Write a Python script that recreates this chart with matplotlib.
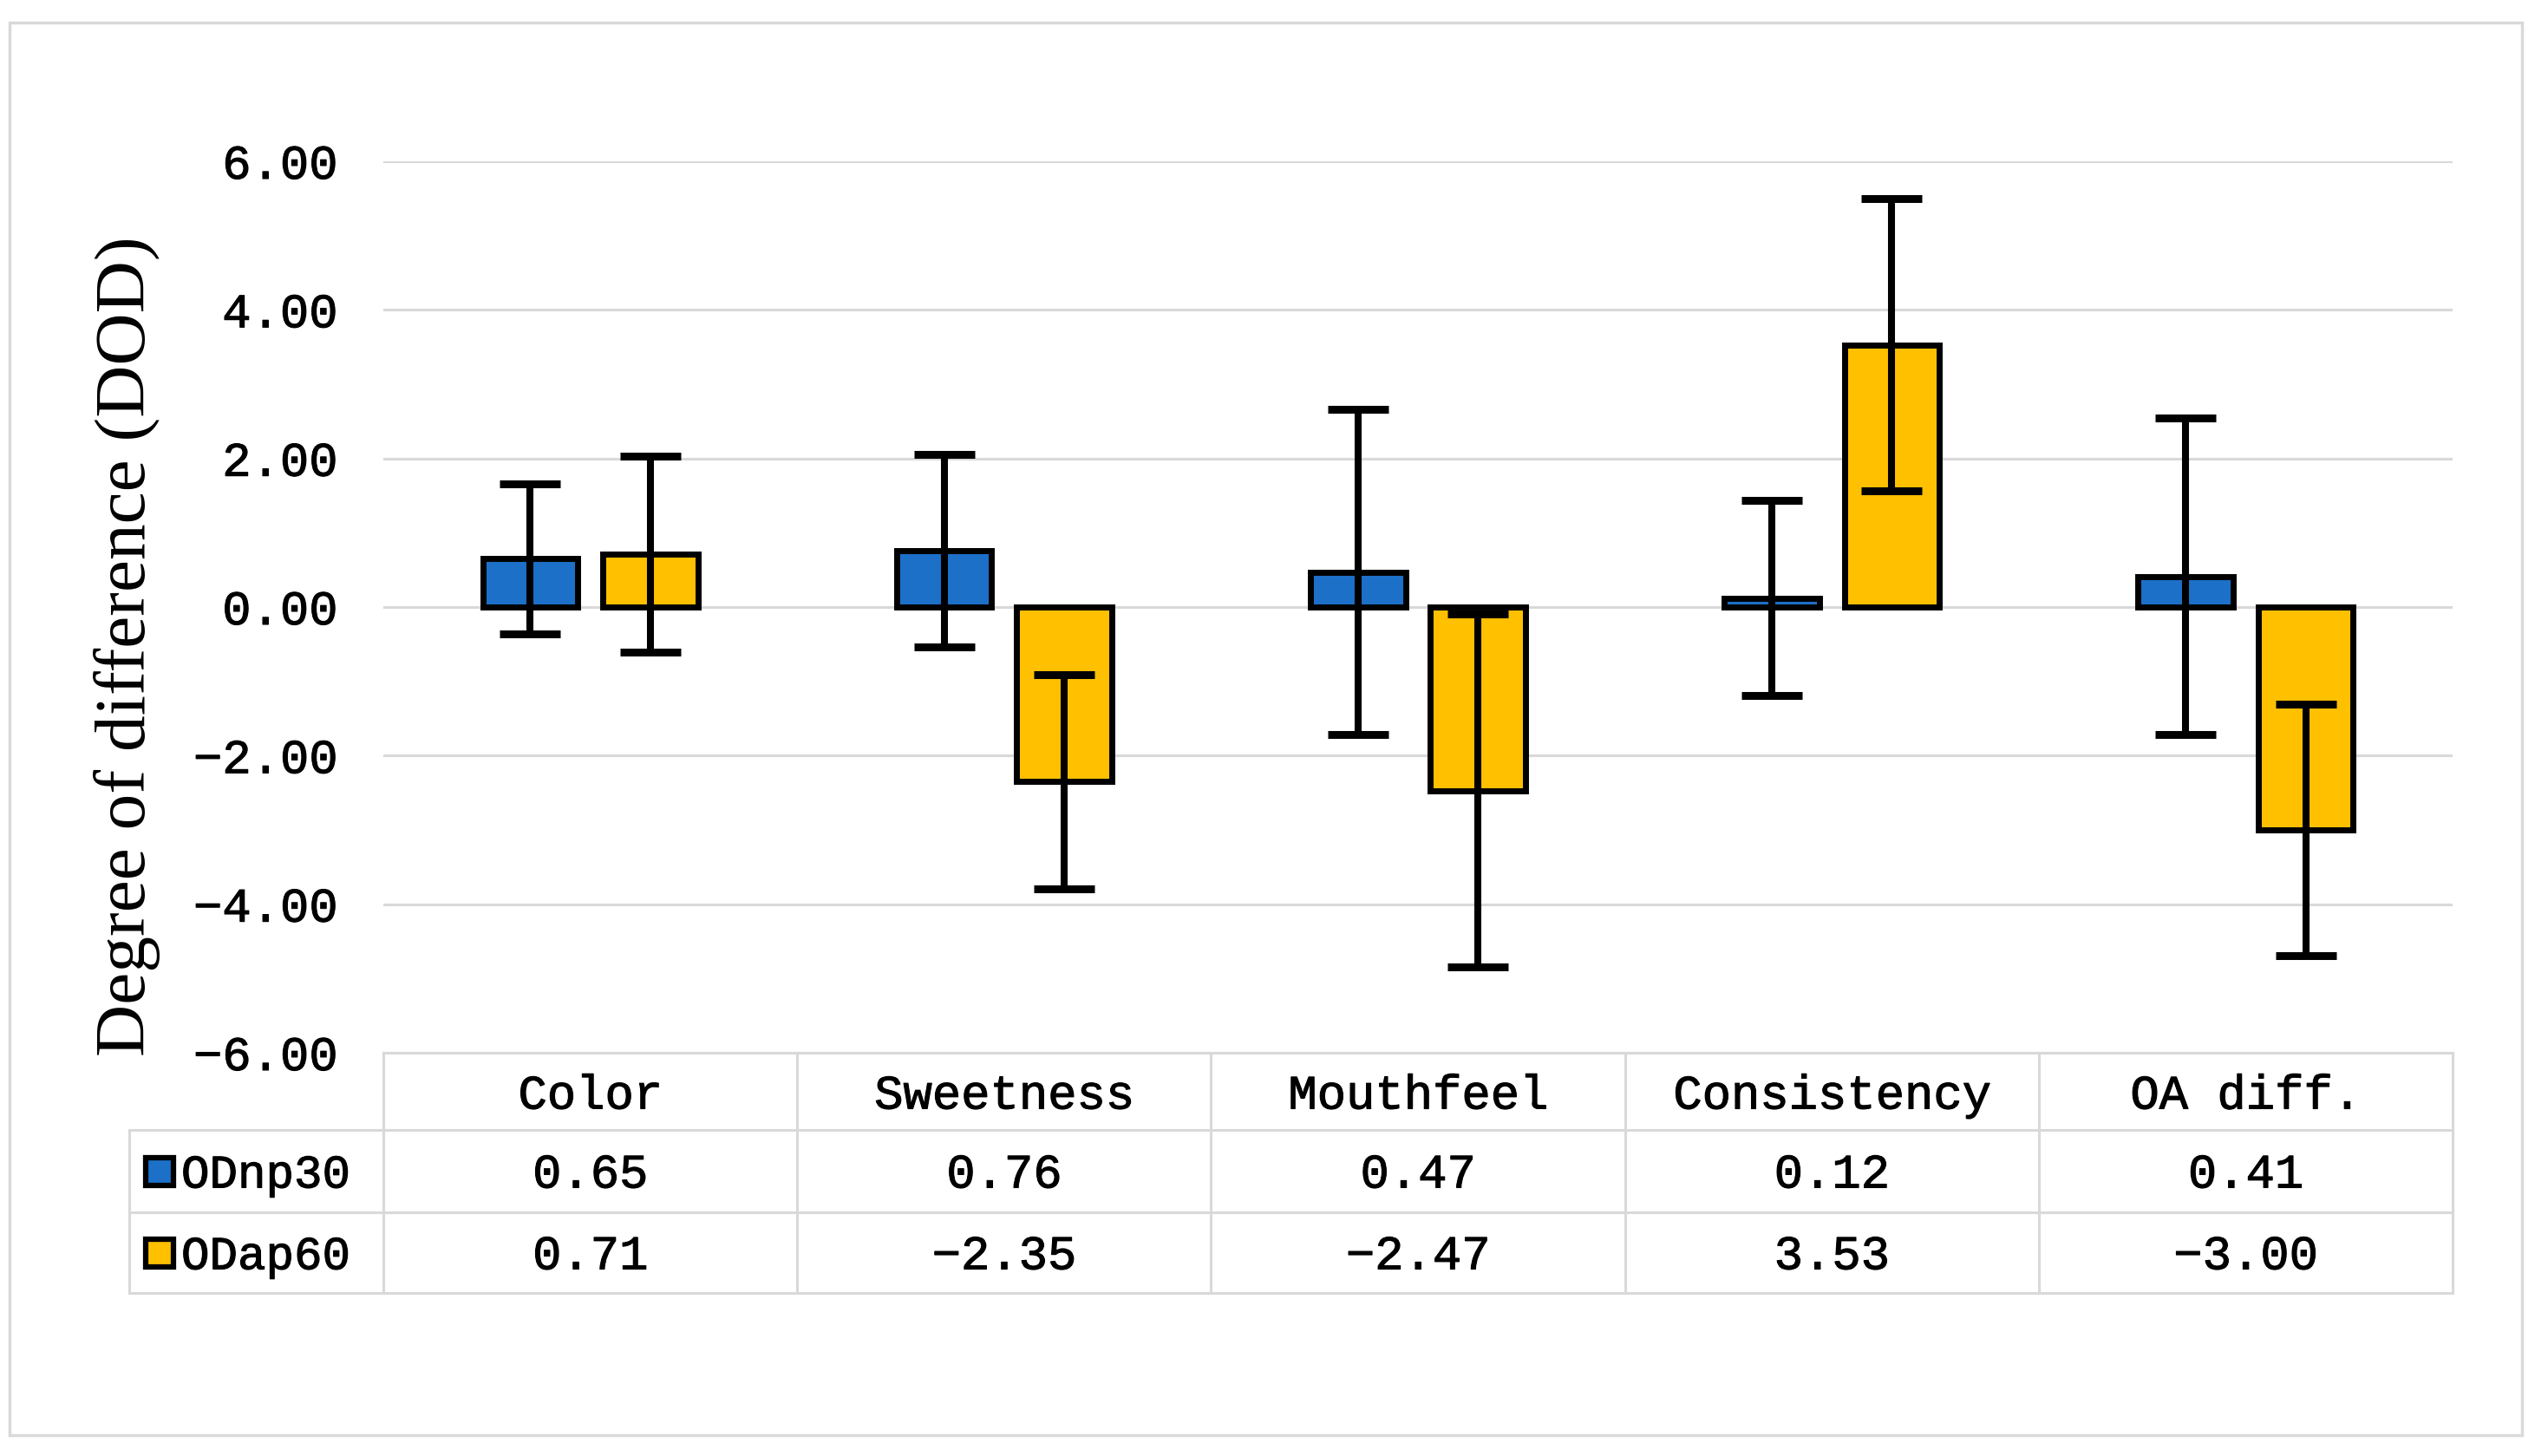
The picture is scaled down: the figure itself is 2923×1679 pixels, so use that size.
import matplotlib
matplotlib.use("Agg")
import matplotlib.pyplot as plt
import matplotlib.patheffects as pe
import numpy as np
from matplotlib.patches import Rectangle
from matplotlib.lines import Line2D

# dados do gráfico
categories = ["Color", "Sweetness", "Mouthfeel", "Consistency", "OA diff."]
series_names = ["ODnp30", "ODap60"]
odnp30 = [0.65, 0.76, 0.47, 0.12, 0.41]
odap60 = [0.71, -2.35, -2.47, 3.53, -3.00]
odnp30_err = [1.01, 1.30, 2.19, 1.31, 2.13]
odap60_err = [1.32, 1.44, 2.38, 1.97, 1.69]
y_ticks = [-6, -4, -2, 0, 2, 4, 6]

blue = "#1C70C8"
yellow = "#FFC000"
grid_gray = "#D9D9D9"
mono = "Liberation Mono"
serif = "Liberation Serif"
thick = [pe.withStroke(linewidth=0.8, foreground="black")]

W, H = 2923, 1679
fig = plt.figure(figsize=(W / 100, H / 100), dpi=100)

# conversão de pixels para fração da figura
def fx(px):
    return px / W

def fy(py):
    return 1 - py / H

ax_left, ax_right, ax_top, ax_bottom = 442, 2828, 186, 1214
ax = fig.add_axes([fx(ax_left), fy(ax_bottom), fx(ax_right - ax_left), (ax_bottom - ax_top) / H])

x = np.arange(len(categories))
offset = 0.145
width = 0.23
err_style = dict(ecolor="black", elinewidth=5.8, capsize=25, capthick=6.5, zorder=4)

ax.bar(x - offset, odnp30, width, color=blue, edgecolor="black", linewidth=5,
       yerr=odnp30_err, error_kw=err_style, zorder=3)
ax.bar(x + offset, odap60, width, color=yellow, edgecolor="black", linewidth=5,
       yerr=odap60_err, error_kw=err_style, zorder=3)

ax.set_xlim(-0.5, len(categories) - 0.5)
ax.set_ylim(-6, 6)
ax.set_yticks(y_ticks)
ax.set_yticklabels([f"{v:.2f}".replace("-", "\u2212") for v in y_ticks], fontfamily=mono,
                   fontsize=40)
for lab in ax.get_yticklabels():
    lab.set_path_effects(thick)
ax.set_xticks([])
ax.tick_params(axis="y", length=0, pad=38)
ax.yaxis.grid(True, color=grid_gray, linewidth=2.2, zorder=0)
ax.set_axisbelow(True)
for s in ax.spines.values():
    s.set_visible(False)

fig.text(fx(147), fy(745), "Degree of difference (DOD)", rotation=90, ha="center", va="center",
         fontfamily=serif, fontsize=60)

# tabela de dados abaixo do gráfico
row_y = [1214, 1303, 1398, 1491]
label_left = 149
col_edges = [ax_left + i * (ax_right - ax_left) / len(categories) for i in range(len(categories) + 1)]
lw_tab = 2.2

def hline(y, x0, x1):
    fig.add_artist(Line2D([fx(x0), fx(x1)], [fy(y), fy(y)], color=grid_gray, linewidth=lw_tab))

def vline(xp, y0, y1):
    fig.add_artist(Line2D([fx(xp), fx(xp)], [fy(y0), fy(y1)], color=grid_gray, linewidth=lw_tab))

hline(row_y[0], ax_left, ax_right)
for y in row_y[1:]:
    hline(y, label_left, ax_right)
vline(label_left, row_y[1], row_y[3])
for xe in col_edges:
    vline(xe, row_y[0], row_y[3])

txt = dict(ha="center", va="center", fontfamily=mono, fontsize=40, path_effects=thick)
for i, cat in enumerate(categories):
    cx = (col_edges[i] + col_edges[i + 1]) / 2
    fig.text(fx(cx), fy((row_y[0] + row_y[1]) / 2 + 6), cat, **txt)
    for r, vals in enumerate([odnp30, odap60]):
        fig.text(fx(cx), fy((row_y[r + 1] + row_y[r + 2]) / 2 + 5),
                 f"{vals[i]:.2f}".replace("-", "\u2212"), **txt)

for r, (name, col) in enumerate(zip(series_names, [blue, yellow])):
    cy = (row_y[r + 1] + row_y[r + 2]) / 2
    fig.add_artist(Rectangle((fx(168), fy(cy + 16)), fx(32), 32 / H, facecolor=col,
                             edgecolor="black", linewidth=4.5))
    fig.text(fx(209), fy(cy + 5), name, ha="left", va="center", fontfamily=mono,
             fontsize=39, path_effects=thick)

# moldura externa
fig.add_artist(Rectangle((fx(11), fy(1655)), fx(2908 - 11), (1655 - 26) / H, fill=False,
                         edgecolor=grid_gray, linewidth=2.5))

fig.savefig("out.png", dpi=100)
